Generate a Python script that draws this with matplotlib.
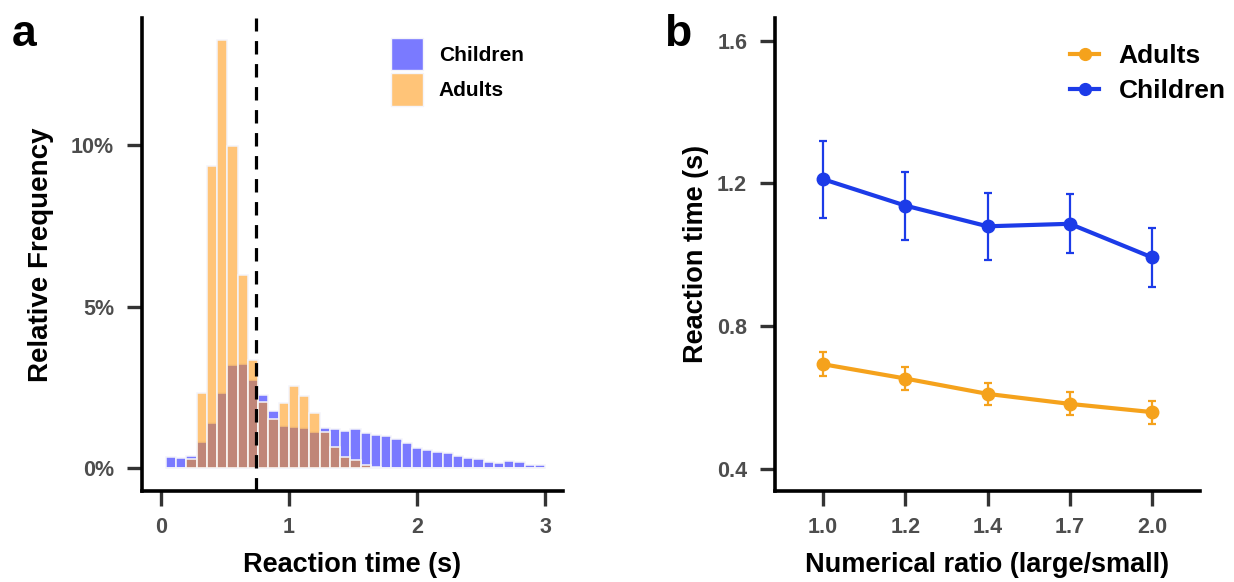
import matplotlib
matplotlib.use("Agg")
import matplotlib.pyplot as plt
from matplotlib.patches import Patch
from matplotlib.lines import Line2D

plt.rcParams['font.family'] = ['Liberation Sans', 'DejaVu Sans']
plt.rcParams['font.weight'] = 'bold'

# ---------------- Data: panel a (histogram, % of trials per 0.08 s bin) ----------------
bin_centers = [0.08, 0.16, 0.24, 0.32, 0.40, 0.48, 0.56, 0.64, 0.72, 0.80,
               0.88, 0.96, 1.04, 1.12, 1.20, 1.28, 1.36, 1.44, 1.52, 1.60,
               1.68, 1.76, 1.84, 1.92, 2.00, 2.08, 2.16, 2.24, 2.32, 2.40,
               2.48, 2.56, 2.64, 2.72, 2.80, 2.88, 2.96]
children_freq = [0.35, 0.32, 0.38, 0.82, 1.41, 2.33, 3.18, 3.23, 2.73, 2.26,
                 1.76, 1.29, 1.28, 1.23, 1.11, 1.24, 1.22, 1.16, 1.21, 1.08,
                 1.02, 1.00, 0.89, 0.77, 0.62, 0.56, 0.50, 0.46, 0.38, 0.30,
                 0.28, 0.19, 0.17, 0.21, 0.18, 0.10, 0.09]
adults_freq = [0.0, 0.0, 0.27, 2.31, 9.34, 13.24, 9.98, 5.97, 3.35, 2.05,
               1.53, 2.02, 2.55, 2.22, 1.72, 1.13, 0.65, 0.34, 0.24, 0.08,
               0.04, 0.0, 0.0, 0.0, 0.0, 0.0, 0.0, 0.0, 0.0, 0.0,
               0.0, 0.0, 0.0, 0.0, 0.0, 0.0, 0.0]
bin_width = 0.08
adult_mean_rt = 0.74
hist_xticks = [0, 1, 2, 3]
hist_yticks = [0, 5, 10]
hist_yticklabels = ['0%', '5%', '10%']

# ---------------- Data: panel b (mean RT by ratio) ----------------
ratio_labels = ['1.0', '1.2', '1.4', '1.7', '2.0']
adults_rt = [0.694, 0.654, 0.611, 0.583, 0.560]
adults_err = [0.033, 0.031, 0.031, 0.032, 0.032]
children_rt = [1.212, 1.138, 1.080, 1.087, 0.993]
children_err = [0.108, 0.095, 0.094, 0.083, 0.082]
rt_yticks = [0.4, 0.8, 1.2, 1.6]

# ---------------- Styling ----------------
W, H = 1234, 582
fig = plt.figure(figsize=(W / 100, H / 100), dpi=100)

tick_gray = '#4D4D4D'
tick_col = '#333333'
spine_w = 2.6
blue_fill = (0.0, 0.0, 1.0, 0.52)
orange_fill = (1.0, 0.57, 0.0, 0.53)
edge_col = '#F4F4FA'
line_orange = '#F5A21C'
line_blue = '#1C3BE8'
tick_fs = 15.5
title_fs = 19.5


def style_axes(ax):
    for s in ['top', 'right']:
        ax.spines[s].set_visible(False)
    for s in ['left', 'bottom']:
        ax.spines[s].set_linewidth(spine_w)
        ax.spines[s].set_color('black')
        ax.spines[s].set_capstyle('projecting')
    ax.tick_params(axis='both', length=11, width=2.4, color=tick_col,
                   labelcolor=tick_gray, labelsize=tick_fs)
    ax.tick_params(axis='x', pad=8)
    ax.tick_params(axis='y', pad=9)
    for lab in ax.get_xticklabels() + ax.get_yticklabels():
        lab.set_fontweight('bold')


# ---------------- Panel a ----------------
ax1 = fig.add_axes([142 / W, (H - 490.7) / H, (563 - 142) / W, (490.7 - 18) / H])
ax1.bar(bin_centers, children_freq, width=bin_width, color=blue_fill,
        edgecolor=edge_col, linewidth=1.1, zorder=2)
ax1.bar(bin_centers, adults_freq, width=bin_width, color=orange_fill,
        edgecolor=edge_col, linewidth=1.1, zorder=3)
ax1.axvline(adult_mean_rt, color='black', linewidth=2.3,
            linestyle=(0, (4.2, 3.0)), zorder=4)
ax1.set_xlim(-0.146, 3.14)
ax1.set_ylim(-0.70, 13.93)
ax1.set_xticks(hist_xticks)
ax1.set_yticks(hist_yticks)
ax1.set_yticklabels(hist_yticklabels)
style_axes(ax1)
ax1.set_xlabel('Reaction time (s)', fontsize=title_fs, fontweight='bold', labelpad=10)
ax1.set_ylabel('Relative Frequency', fontsize=20, fontweight='bold', labelpad=12)

leg1 = ax1.legend(handles=[Patch(facecolor=blue_fill, edgecolor=edge_col, label='Children'),
                           Patch(facecolor=orange_fill, edgecolor=edge_col, label='Adults')],
                  loc='upper left', bbox_to_anchor=(391 / W, (H - 38) / H),
                  bbox_transform=fig.transFigure, frameon=False,
                  prop={'family': 'Liberation Sans', 'weight': 'bold', 'size': 15},
                  handlelength=1.55, handleheight=2.0, handletextpad=0.75,
                  labelspacing=0.15, borderpad=0, borderaxespad=0)

fig.text(12 / W, (H - 46) / H, 'a', fontsize=32, fontweight='bold', ha='left', va='baseline')

# ---------------- Panel b ----------------
ax2 = fig.add_axes([775 / W, (H - 490.7) / H, (1200 - 775) / W, (490.7 - 18) / H])
xpos = list(range(1, len(ratio_labels) + 1))
ax2.errorbar(xpos, adults_rt, yerr=adults_err, color=line_orange, linewidth=3.0,
             marker='o', markersize=9, elinewidth=1.6, capsize=3, capthick=1.6,
             label='Adults', zorder=3)
ax2.errorbar(xpos, children_rt, yerr=children_err, color=line_blue, linewidth=3.0,
             marker='o', markersize=9, elinewidth=1.6, capsize=3, capthick=1.6,
             label='Children', zorder=3)
ax2.set_xlim(0.416, 5.584)
ax2.set_ylim(0.34, 1.663)
ax2.set_xticks(xpos)
ax2.set_xticklabels(ratio_labels)
ax2.set_yticks(rt_yticks)
ax2.set_yticklabels([f'{v:.1f}' for v in rt_yticks])
style_axes(ax2)
ax2.set_xlabel('Numerical ratio (large/small)', fontsize=title_fs, fontweight='bold', labelpad=10)
ax2.set_ylabel('Reaction time (s)', fontsize=title_fs, fontweight='bold', labelpad=6)

leg_handles = [Line2D([0], [0], color=line_orange, linewidth=3.0, marker='o', markersize=8.5),
               Line2D([0], [0], color=line_blue, linewidth=3.0, marker='o', markersize=8.5)]
ax2.legend(leg_handles, ['Adults', 'Children'], loc='upper left',
           bbox_to_anchor=(1070 / W, (H - 44) / H), bbox_transform=fig.transFigure,
           frameon=False, prop={'family': 'Liberation Sans', 'weight': 'bold', 'size': 19},
           handlelength=1.1, handletextpad=0.75, labelspacing=0.42,
           borderpad=0, borderaxespad=0)

fig.text(664 / W, (H - 46) / H, 'b', fontsize=32, fontweight='bold', ha='left', va='baseline')

fig.savefig('out.png', dpi=100)
